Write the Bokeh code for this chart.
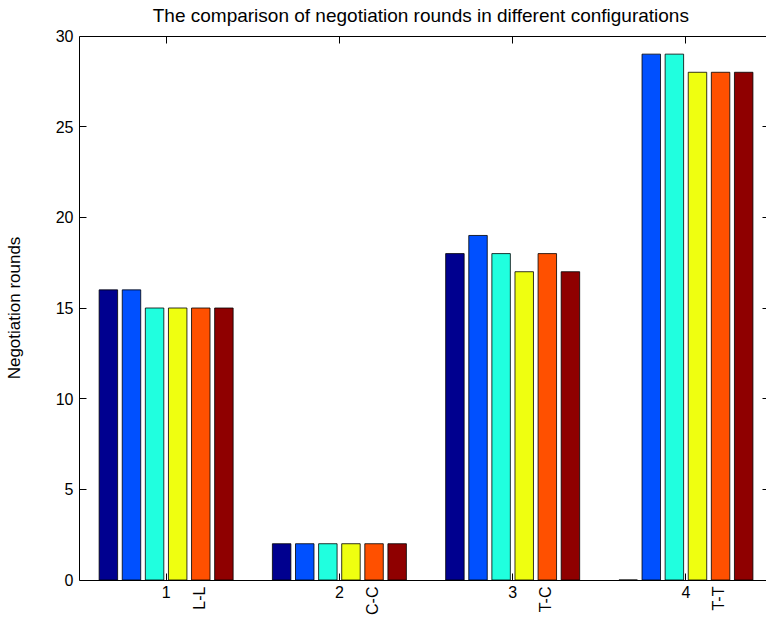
from math import pi
from bokeh.plotting import figure
from bokeh.models import Range1d, FixedTicker, LinearAxis, ColumnDataSource
from bokeh.core.properties import value
from bokeh.embed import file_html
from bokeh.resources import INLINE

# ---- data ----
groups = [1, 2, 3, 4]
config_labels = ["L-L", "C-C", "T-C", "T-T"]
series_1 = [16, 2, 18, 0]
series_2 = [16, 2, 19, 29]
series_3 = [15, 2, 18, 29]
series_4 = [15, 2, 17, 28]
series_5 = [15, 2, 18, 28]
series_6 = [15, 2, 17, 28]
all_series = [series_1, series_2, series_3, series_4, series_5, series_6]
series_colors = ["#00008F", "#0050FF", "#20FFDF", "#EFFF10", "#FF5000", "#8F0000"]
y_ticks = [0, 5, 10, 15, 20, 25, 30]
y_max = 30
title_text = "The comparison of negotiation rounds in different configurations"
y_label = "Negotiation rounds"

FONT = "Liberation Sans"
FS = "16px"

# layout: frame spans canvas rows 0..615; value 30 at row 35.5, value 0 at row 579.5
px_per_unit = 544.0 / y_max
y_top = y_max + 35.5 / px_per_unit
y_bottom = -35.5 / px_per_unit

p = figure(width=766, height=620, output_backend="svg", toolbar_location=None,
           x_range=Range1d(0.5, 4.465), y_range=Range1d(y_bottom, y_top),
           min_border_left=79, min_border_right=0, min_border_top=0,
           min_border_bottom=5, outline_line_color=None)

p.xgrid.visible = False
p.ygrid.visible = False

n = len(all_series)
pitch = 0.8 / n
bar_w = pitch * 0.8
for k, (vals, col) in enumerate(zip(all_series, series_colors)):
    xs = [g + (k - (n - 1) / 2) * pitch for g in groups]
    p.vbar(x=xs, top=vals, bottom=0, width=bar_w, fill_color=col,
           line_color="black", line_width=0.8)

def style_axis(ax, ticks, show_labels=True, tick_in=7, line=True):
    ax.ticker = FixedTicker(ticks=ticks)
    ax.major_tick_in = tick_in
    ax.major_tick_out = 0
    ax.minor_tick_line_color = None
    ax.major_tick_line_color = "black"
    ax.axis_line_color = "black" if line else None
    ax.major_label_text_font = FONT
    ax.major_label_text_font_size = FS
    ax.major_label_text_color = "black"
    ax.major_label_standoff = 6
    if not show_labels:
        ax.major_label_overrides = {t: "" for t in ticks}
        ax.major_label_standoff = 0

# bottom axis drawn at y = 0
xa = p.xaxis[0]
style_axis(xa, groups)
xa.fixed_location = 0

# left axis, limited to the 0..30 span
ya = p.yaxis[0]
style_axis(ya, y_ticks)
ya.bounds = (0, y_max)
ya.axis_label = y_label
ya.axis_label_text_font = FONT
ya.axis_label_text_font_size = "17px"
ya.axis_label_text_font_style = "normal"
ya.axis_label_text_color = "black"
ya.axis_label_standoff = 29

# top edge of the box with inward ticks, at y = 30
ta = LinearAxis()
style_axis(ta, groups, show_labels=False)
ta.fixed_location = y_max
p.add_layout(ta, "above")

# right axis (box edge beyond window; only tick stubs visible)
ra = LinearAxis()
style_axis(ra, y_ticks, show_labels=False, tick_in=4, line=False)
ra.bounds = (0, y_max)
p.add_layout(ra, "right")

# rotated configuration labels below the axis
lab_src = ColumnDataSource(dict(x=[g + 0.19 for g in groups],
                                y=[-0.36] * len(groups),
                                text=config_labels))
p.text(x="x", y="y", text="text", source=lab_src, angle=pi / 2,
       text_align="right", text_baseline="middle",
       text_font=value(FONT), text_font_size=value(FS), text_color="black")

# title, centred above the box
p.text(x=[2.47], y=[y_max + 20.5 / px_per_unit], text=[title_text],
       text_align="center", text_baseline="middle",
       text_font=value(FONT), text_font_size=value("19px"), text_color="black")

open("out.html", "w").write(file_html(p, INLINE))
